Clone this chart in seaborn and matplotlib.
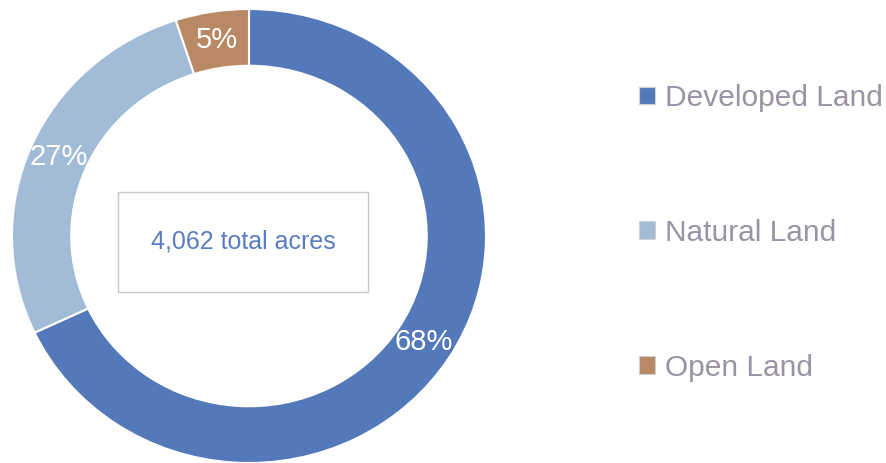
import matplotlib
matplotlib.use("Agg")
import matplotlib.pyplot as plt
from matplotlib.patches import Rectangle, Patch
import numpy as np
import seaborn as sns

categories = ["Developed Land", "Natural Land", "Open Land"]
shares = [68, 27, 5]
pct_labels = ["68%", "27%", "5%"]
center_text = "4,062 total acres"
colors = ["#5479ba", "#a2bcd8", "#b98865"]

sns.set_theme(style="white")
plt.rcParams["font.family"] = ["Liberation Sans", "DejaVu Sans"]

fig = plt.figure(figsize=(8.86, 4.63), dpi=100)
ax = fig.add_axes([12 / 886, 0 / 463, 474 / 886, 454 / 463])
wedges, _ = ax.pie(shares, colors=colors, startangle=90, counterclock=False,
                   radius=1.0, wedgeprops=dict(width=0.25, edgecolor="white", linewidth=1.5))
ax.set_aspect("auto")
ax.set_xlim(-1, 1)
ax.set_ylim(-1, 1)
ax.axis("off")

ang = 90.0
for w, s, lab in zip(wedges, shares, pct_labels):
    mid = np.deg2rad(ang - s * 360 / 100 / 2)
    ang -= s * 360 / 100
    ax.text(0.875 * np.cos(mid), 0.875 * np.sin(mid), lab, ha="center", va="center",
            color="white", fontsize=21)

# center box
fig.patches.append(Rectangle((118 / 886, 1 - 292 / 463), 250 / 886, 100 / 463,
                             transform=fig.transFigure, fill=False,
                             edgecolor="#c8c8c8", linewidth=1))
fig.text(243 / 886, 1 - 242 / 463, center_text, ha="center", va="center",
         color="#5a7cc0", fontsize=18)

handles = [Patch(facecolor=c, edgecolor="#d0d0d0", linewidth=0.8) for c in colors]
leg = fig.legend(handles, categories, loc="upper left", bbox_to_anchor=(639 / 886, 1 - 84 / 463),
                 frameon=False, fontsize=21.5, handlelength=0.54, handleheight=0.54,
                 handletextpad=0.33, labelspacing=3.58, borderaxespad=0, borderpad=0)
for t in leg.get_texts():
    t.set_color("#9a93a4")

fig.savefig("out.png", dpi=100)
